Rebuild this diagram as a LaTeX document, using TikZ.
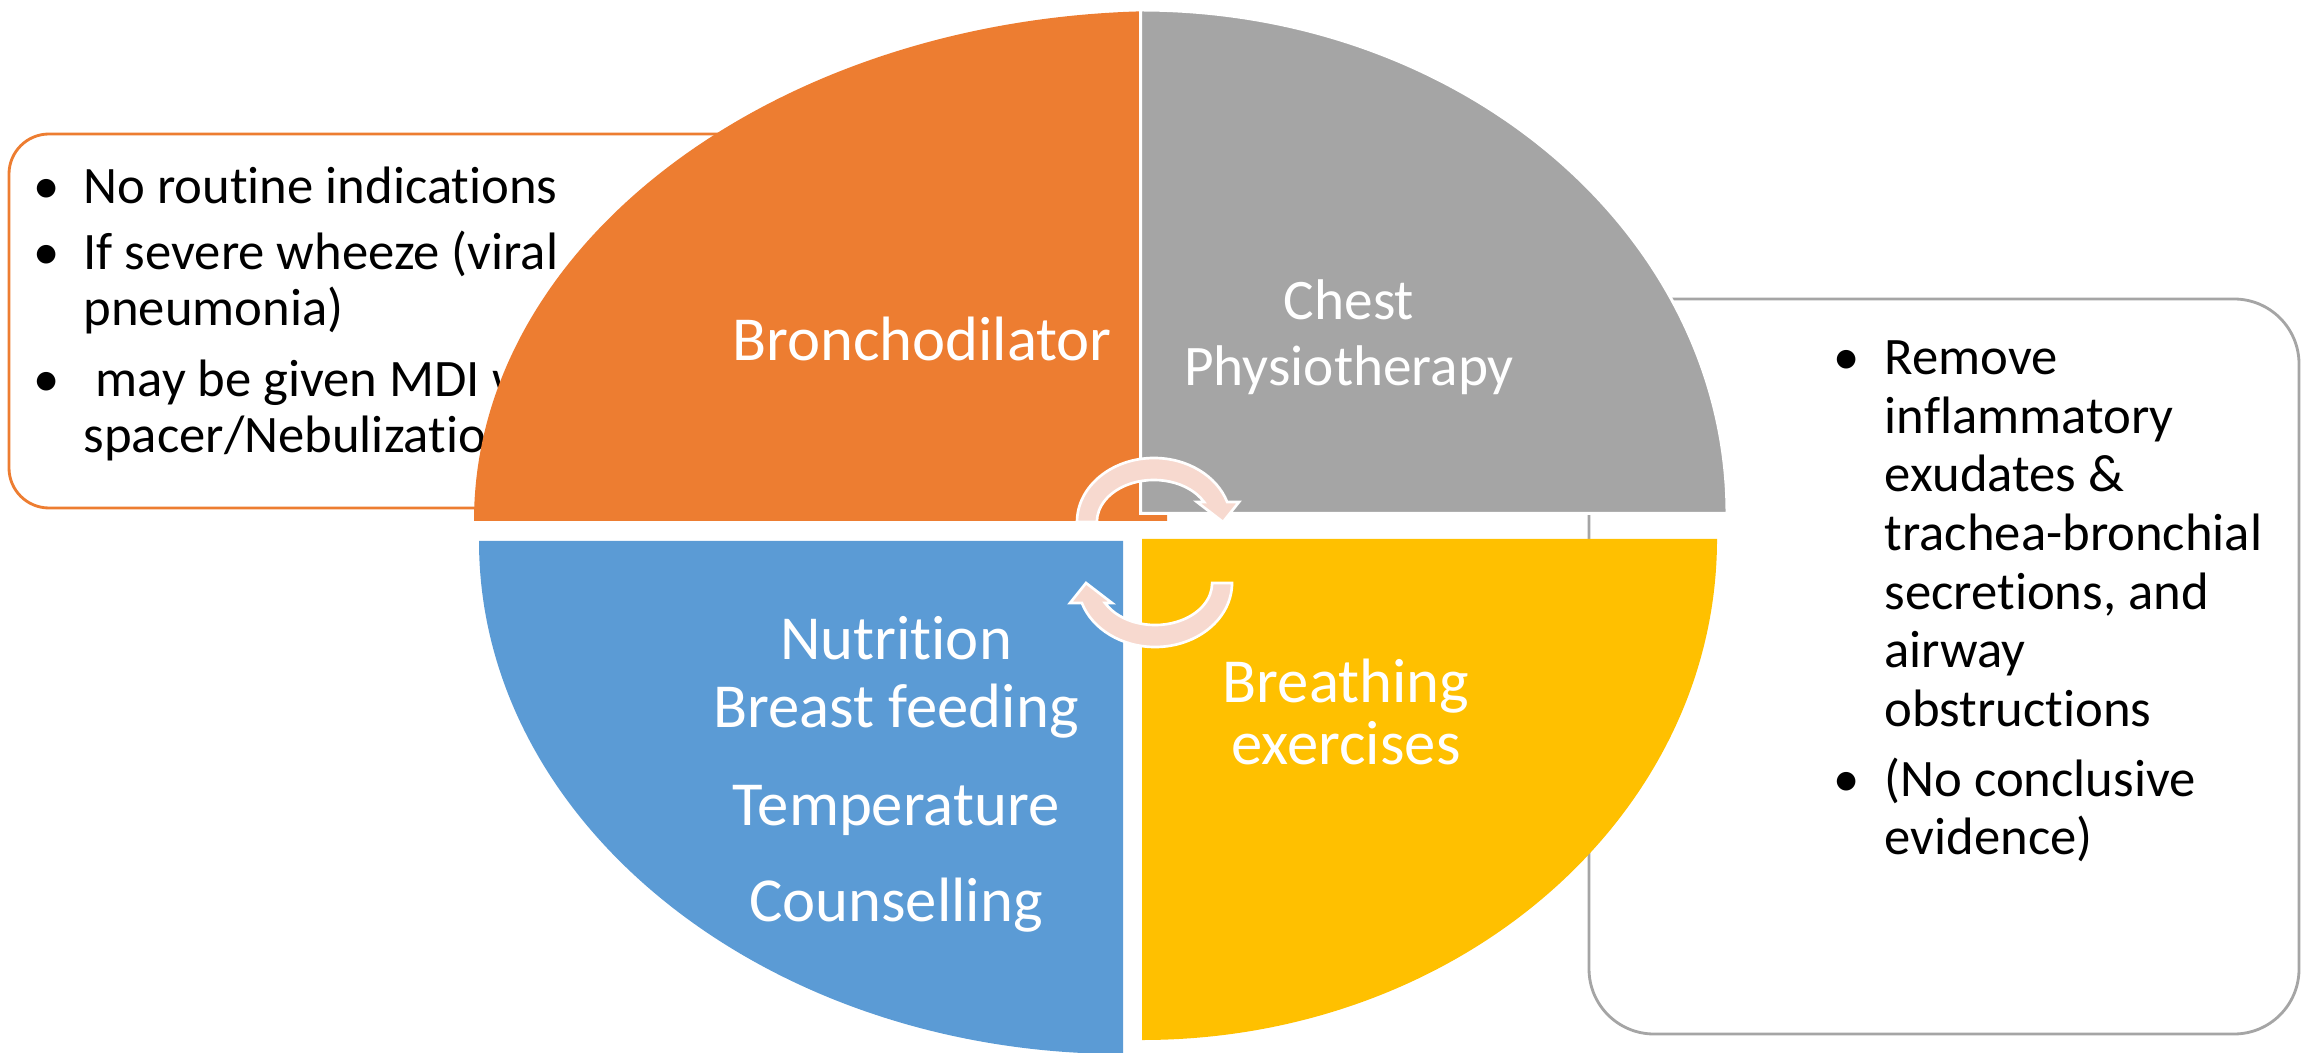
\documentclass[tikz,border=0pt]{standalone}
\usepackage{fontspec}
\setmainfont{Carlito}[Ligatures=NoCommon]
\definecolor{qOrange}{HTML}{ED7D31}
\definecolor{qGray}{HTML}{A5A5A5}
\definecolor{qBlue}{HTML}{5B9BD5}
\definecolor{qYellow}{HTML}{FFC000}
\definecolor{cycleFill}{HTML}{F7D9CF}
\begin{document}
\begin{tikzpicture}[x=0.3pt,y=-0.3pt,
  quadlabel/.style={text=white,font=\fontsize{18.8}{22}\selectfont,inner sep=0pt,anchor=base},
  quadsmall/.style={quadlabel,font=\fontsize{17.2}{20}\selectfont},
  boxtxt/.style={font=\fontsize{15.8}{19}\selectfont,inner sep=0pt,anchor=base west},
  bul/.style={font=\fontsize{15.8}{19}\selectfont,inner sep=0pt,anchor=base},
  notebox/.style={line width=0.85pt,fill=white},
  cyclearrow/.style={fill=cycleFill,draw=white,line width=0.8pt,line join=miter}]
\useasboundingbox (0,0) rectangle (2305,1053);
\clip (0,0) rectangle (2305,1053);

% left note box (partly hidden behind the orange quarter)
\draw[notebox,draw=qOrange,rounded corners=12pt] (9,134) rectangle (900,508);
\node[bul] (lb1) at (47,204) {•};
\node[boxtxt] (lt1) at (83,204) {No routine indications};
\node[bul] (lb2) at (47,270) {•};
\node[boxtxt] (lt2) at (83,270) {If severe wheeze (viral};
\node[boxtxt] (lt3) at (83,326) {pneumonia)};
\node[bul] (lb3) at (47,397) {•};
\node[boxtxt] (lt4) at (95,397) {may be given MDI with};
\node[boxtxt] (lt5) at (83,453) {spacer/Nebulization};

% right note box
\draw[notebox,draw=qGray,rounded corners=19.5pt] (1589,299) rectangle (2299,1034);
\node[bul] (rb1) at (1847,375) {•};
\node[boxtxt] (rt1) at (1884,375) {Remove};
\node[boxtxt] (rt2) at (1884,434) {inflammatory};
\node[boxtxt] (rt3) at (1884,492) {exudates \&};
\node[boxtxt] (rt4) at (1884,551) {trachea-bronchial};
\node[boxtxt] (rt5) at (1884,609) {secretions, and};
\node[boxtxt] (rt6) at (1884,667) {airway};
\node[boxtxt] (rt7) at (1884,726) {obstructions};
\node[bul] (rb2) at (1847,796) {•};
\node[boxtxt] (rt8) at (1884,796) {(No conclusive};
\node[boxtxt] (rt9) at (1884,854) {evidence)};

% four quarter ellipses
\fill[qOrange] (1167,521) -- (474,521)
  arc[start angle=180,end angle=270,x radius=693,y radius=510] -- cycle;
\filldraw[fill=qGray,draw=white,line width=0.9pt] (1140.5,513.5) -- (1140.5,10)
  arc[start angle=270,end angle=360,x radius=586.5,y radius=503.5] -- cycle;
\fill[qBlue] (1123,541) -- (479,541)
  arc[start angle=180,end angle=90,x radius=644,y radius=513] -- cycle;
\fill[qYellow] (1142,539) -- (1717,539)
  arc[start angle=0,end angle=90,x radius=575,y radius=501] -- cycle;

% circular arrows in the middle
\path[cyclearrow] (1077,522)
  arc[start angle=180,end angle=341.8,x radius=77,y radius=64]
  -- (1239,502) -- (1223,522) -- (1197,502) -- (1204,502)
  arc[start angle=331.6,end angle=180,x radius=57,y radius=42] -- cycle;
\begin{scope}[rotate around={180:(1154.5,552.5)}]
\path[cyclearrow] (1077,522)
  arc[start angle=180,end angle=341.8,x radius=77,y radius=64]
  -- (1239,502) -- (1223,522) -- (1197,502) -- (1204,502)
  arc[start angle=331.6,end angle=180,x radius=57,y radius=42] -- cycle;
\end{scope}

% quarter labels
\node[quadlabel] (bronch) at (922,361) {Bronchodilator};
\node[quadsmall] (chest) at (1349,320) {Chest};
\node[quadsmall] (physio) at (1349,386) {Physiotherapy};
\node[quadlabel] (nutri) at (896,659) {Nutrition};
\node[quadlabel] (breast) at (896,727) {Breast feeding};
\node[quadlabel] (temp) at (896,825) {Temperature};
\node[quadlabel] (couns) at (896,921) {Counselling};
\node[quadlabel] (breath) at (1346,702) {Breathing};
\node[quadlabel] (exer) at (1346,764) {exercises};
\end{tikzpicture}
\end{document}
